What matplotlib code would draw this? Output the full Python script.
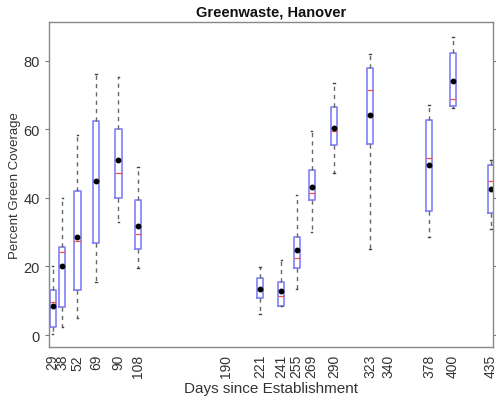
import numpy as np
import matplotlib
matplotlib.use("Agg")
import matplotlib.pyplot as plt

plt.rcParams['font.family'] = ['Liberation Sans', 'DejaVu Sans']

# days with a sample (boxes)
days = [29, 38, 52, 69, 90, 108, 221, 241, 255, 269, 290, 323, 378, 400, 435]
q1 = [2.4, 8.3, 13.1, 26.7, 39.9, 25.1, 10.7, 8.6, 19.5, 39.3, 55.4, 55.7, 36.2, 66.7, 35.6]
q3 = [13.1, 25.6, 42.1, 62.3, 60.1, 39.4, 16.6, 15.6, 28.5, 48.0, 66.4, 78.0, 62.8, 82.4, 49.7]
med = [9.6, 24.3, 27.5, 44.8, 47.4, 29.6, 13.0, 11.5, 22.4, 41.5, 59.6, 71.5, 51.5, 68.8, 44.8]
mean = [8.5, 20.2, 28.7, 44.8, 51.0, 31.9, 13.3, 12.8, 24.7, 43.3, 60.5, 64.1, 49.7, 74.0, 42.6]
wlo = [0.4, 2.2, 4.9, 15.4, 33.1, 19.5, 6.1, 8.6, 13.4, 30.0, 47.2, 25.1, 28.5, 66.1, 30.9]
whi = [20.0, 40.1, 58.3, 76.1, 75.4, 48.9, 19.7, 21.8, 40.8, 59.6, 73.5, 81.9, 67.1, 86.8, 51.0]

# tick labels (includes sampling days with no data)
tick_days = [29, 38, 52, 69, 90, 108, 190, 221, 241, 255, 269, 290, 323, 340, 378, 400, 435]

stats = []
for i in range(len(days)):
    stats.append(dict(med=med[i], q1=q1[i], q3=q3[i], whislo=wlo[i], whishi=whi[i],
                      mean=mean[i], fliers=[]))

fig = plt.figure(figsize=(4.96, 4.02), dpi=100)
ax = fig.add_axes([0.0988, 0.1343, 0.8952, 0.8085])

txt = '#333333'
ax.bxp(stats, positions=days, widths=5.6, showmeans=True, manage_ticks=False,
       boxprops=dict(color='#8080f8', linewidth=1.2),
       medianprops=dict(color='#f05050', linewidth=0.9),
       whiskerprops=dict(color='#666666', linewidth=1.0, linestyle=(0, (3, 3))),
       capprops=dict(color='#444444', linewidth=1.0),
       capwidths=1.5,
       meanprops=dict(marker='o', markerfacecolor='black', markeredgecolor='black',
                      markersize=3.2))

ax.set_xlim(25.6, 437.1)
ax.set_ylim(-3.5, 91.3)
ax.set_xticks(tick_days)
ax.set_xticklabels([str(d) for d in tick_days], rotation=90, fontsize=10, color=txt)
ax.set_yticks([0, 20, 40, 60, 80])
ax.tick_params(axis='y', labelsize=10.5, labelcolor=txt, direction='out', length=3,
               color='#777777', right=True)
ax.tick_params(axis='x', length=0, pad=5)
for s in ax.spines.values():
    s.set_color('#888888')
    s.set_linewidth(1.0)

ax.set_title('Greenwaste, Hanover', fontsize=10.5, fontweight='bold', color='#111111', pad=5)
ax.set_xlabel('Days since Establishment', fontsize=11, color=txt, labelpad=3)
ax.set_ylabel('Percent Green Coverage', fontsize=9.5, color=txt, labelpad=2)

fig.savefig('out.png', dpi=100)
